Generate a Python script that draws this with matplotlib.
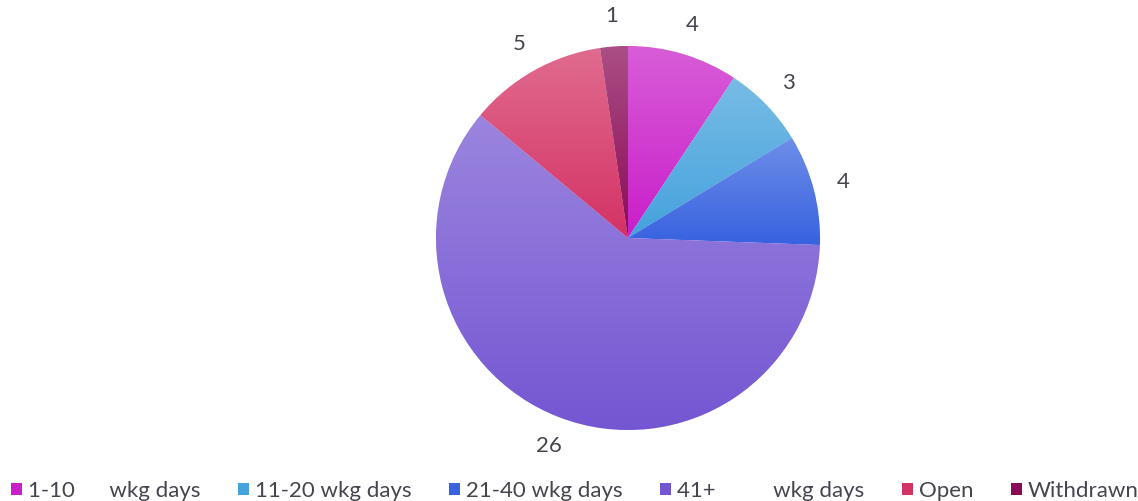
import numpy as np
import matplotlib
matplotlib.use("Agg")
import matplotlib.pyplot as plt
from matplotlib.colors import to_rgb, LinearSegmentedColormap
from matplotlib.patches import Patch

categories = ["1-10      wkg days", "11-20 wkg days", "21-40 wkg days",
              "41+          wkg days", "Open", "Withdrawn"]
values = [4, 3, 4, 26, 5, 1]
colors = ["#c91ec9", "#44a2dc", "#3762e0", "#7456d2", "#d43264", "#8a0a56"]

plt.rcParams['font.family'] = ['Lato', 'DejaVu Sans']
TEXT = "#45454f"

W, H = 1138, 501
fig = plt.figure(figsize=(W / 100, H / 100), dpi=100)
R = 192
cx, cy = 628, 238
lim = 1.3
size = 2 * lim * R
ax = fig.add_axes([(cx - size / 2) / W, (H - cy - size / 2) / H, size / W, size / H])
ax.set_xlim(-lim, lim)
ax.set_ylim(-lim, lim)
ax.set_aspect('equal')
ax.axis('off')

wedges, texts = ax.pie(values, startangle=90, counterclock=False, radius=1,
                       colors=colors, labels=[str(v) for v in values],
                       labeldistance=1.16,
                       wedgeprops=dict(linewidth=0.6, edgecolor="#ffffff"),
                       textprops=dict(fontsize=16, color=TEXT))
for t in texts:
    t.set_ha('center')
    t.set_va('center')

def lighten(c, f):
    r = np.array(to_rgb(c))
    return tuple(r + (1 - r) * f)

grad = np.linspace(0, 1, 256).reshape(-1, 1)
for w, c in zip(wedges, colors):
    path = w.get_path().transformed(w.get_patch_transform())
    verts = path.vertices
    ymin, ymax = verts[:, 1].min(), verts[:, 1].max()
    xmin, xmax = verts[:, 0].min(), verts[:, 0].max()
    cmap = LinearSegmentedColormap.from_list("g", [c, lighten(c, 0.28)])
    im = ax.imshow(grad, cmap=cmap, extent=(xmin, xmax, ymin, ymax),
                   origin='lower', aspect='auto', zorder=w.get_zorder() + 0.1,
                   interpolation='bilinear')
    im.set_clip_path(w)
ax.set_xlim(-lim, lim)
ax.set_ylim(-lim, lim)

handles = [Patch(facecolor=c, edgecolor='none') for c in colors]
leg = fig.legend(handles, categories, loc='lower center', ncol=6,
                 bbox_to_anchor=(0.505, -0.04), frameon=False,
                 fontsize=16, handlelength=0.5, handleheight=0.5,
                 handletextpad=0.25, columnspacing=1.7, labelcolor=TEXT)

fig.savefig("out.png", dpi=100)
